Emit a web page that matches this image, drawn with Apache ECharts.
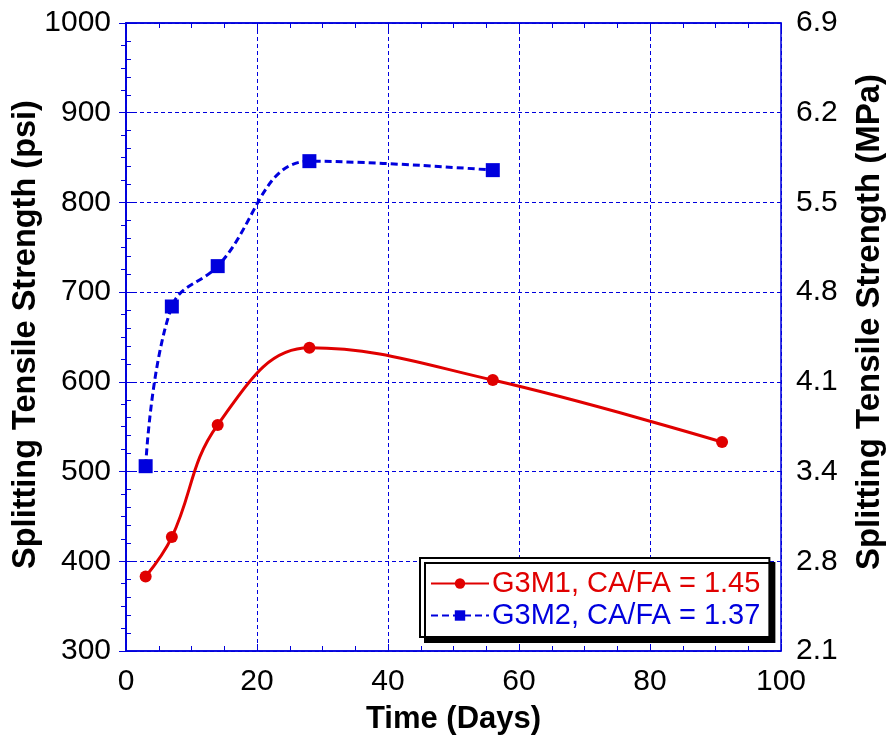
<!DOCTYPE html>
<html><head><meta charset="utf-8">
<script src="https://cdn.jsdelivr.net/npm/echarts@6/dist/echarts.min.js"></script>
<style>html,body{margin:0;padding:0;background:#fff}#c{width:891px;height:742px}</style>
</head><body><div id="c"></div>
<script>
const days1 = [3, 7, 14, 28, 56, 91];
const g3m1 = [383, 427, 552, 638, 602, 533];
const days2 = [3, 7, 14, 28, 56];
const g3m2 = [506, 684, 729, 846, 836];
const leftTicks = [300, 400, 500, 600, 700, 800, 900, 1000];
const rightTickLabels = ['2.1', '2.8', '3.4', '4.1', '4.8', '5.5', '6.2', '6.9'];
const seriesNames = ['G3M1, CA/FA = 1.45', 'G3M2, CA/FA = 1.37'];

const blue = '#0000dd';
const red = '#e00000';
const font = 'Liberation Sans, Arial, sans-serif';
const chart = echarts.init(document.getElementById('c'));
const axisLine = {show: true, lineStyle: {color: blue, width: 1.5}};
const axisTick = {show: true, inside: true, length: 7, lineStyle: {color: blue}};
const minor = n => ({show: true, splitNumber: n, length: 5, lineStyle: {color: blue}});
const grid = {show: true, lineStyle: {color: blue, type: [4, 3], width: 1}};
const tickFont = {fontFamily: font, fontSize: 30, color: '#000'};
const titleFont = {fontFamily: font, fontWeight: 'bold', color: '#000'};
chart.setOption({
  animation: false,
  grid: {left: 126, top: 23, right: 110, bottom: 91, show: true, borderColor: blue, borderWidth: 1.5,
    containLabel: false, outerBoundsMode: 'none'},
  legend: {
    data: [
      {name: seriesNames[0], textStyle: {color: red}},
      {name: seriesNames[1], textStyle: {color: blue}}
    ],
    orient: 'vertical', left: 420, top: 558,
    padding: [11, 9, 7, 10], itemGap: 3, itemWidth: 58, itemHeight: 13,
    backgroundColor: '#fff', borderColor: '#000', borderWidth: 2,
    shadowColor: '#000', shadowBlur: 0, shadowOffsetX: 5, shadowOffsetY: 5,
    textStyle: {fontFamily: font, fontSize: 29, lineHeight: 28, padding: [0, 0, 0, -2]}
  },
  xAxis: [
    {type: 'value', min: 0, max: 100, interval: 20, position: 'bottom',
      name: 'Time (Days)', nameLocation: 'middle', nameGap: 53,
      nameTextStyle: Object.assign({fontSize: 31}, titleFont),
      axisLine, axisTick, minorTick: minor(4),
      axisLabel: Object.assign({margin: 16}, tickFont),
      splitLine: grid},
    {type: 'value', min: 0, max: 100, interval: 20, position: 'top',
      axisLine, axisTick, minorTick: minor(4),
      axisLabel: {show: false}, splitLine: {show: false}}
  ],
  yAxis: [
    {type: 'value', min: leftTicks[0], max: leftTicks[leftTicks.length - 1], interval: 100, position: 'left',
      name: 'Splitting Tensile Strength (psi)', nameLocation: 'middle', nameGap: 83, nameMoveOverlap: false,
      nameTextStyle: Object.assign({fontSize: 32.5, padding: [0, 0, 0, 5]}, titleFont),
      axisLine, axisTick, minorTick: minor(5),
      axisLabel: Object.assign({margin: 15, formatter: v => String(v)}, tickFont),
      splitLine: grid},
    {type: 'value', min: leftTicks[0], max: leftTicks[leftTicks.length - 1], interval: 100, position: 'right',
      name: 'Splitting Tensile Strength (MPa)', nameLocation: 'middle', nameGap: 72, nameRotate: 90,
      nameTextStyle: Object.assign({fontSize: 33, padding: [0, 0, 0, 30]}, titleFont),
      axisLine, axisTick, minorTick: minor(4),
      axisLabel: Object.assign({margin: 15,
        formatter: v => rightTickLabels[leftTicks.indexOf(v)] ?? ''}, tickFont),
      splitLine: {show: false}}
  ],
  series: [
    {name: seriesNames[0], type: 'line', smooth: 0.4,
      data: days1.map((d, i) => [d, g3m1[i]]),
      symbol: 'circle', symbolSize: 12,
      itemStyle: {color: red}, lineStyle: {color: red, width: 3}},
    {name: seriesNames[1], type: 'line', smooth: 0.4,
      data: days2.map((d, i) => [d, g3m2[i]]),
      symbol: 'rect', symbolSize: 14,
      itemStyle: {color: blue}, lineStyle: {color: blue, width: 3, type: [7, 4]}}
  ]
});
</script></body></html>
